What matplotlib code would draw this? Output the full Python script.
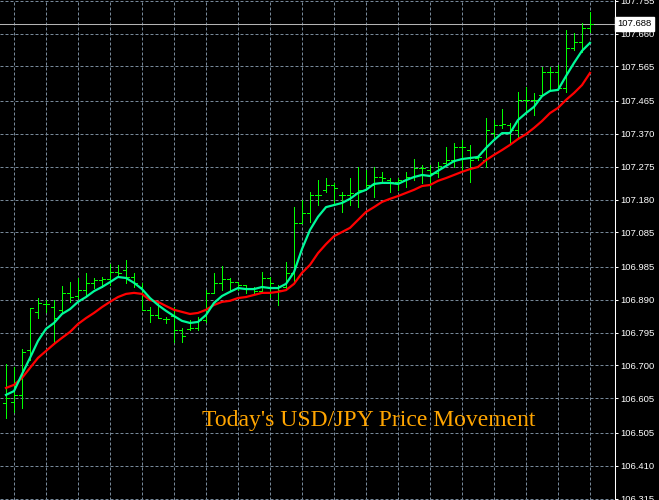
import matplotlib
matplotlib.use("Agg")
import matplotlib.pyplot as plt
import numpy as np

# USD/JPY bars
bar_open = [106.592, 106.594, 106.615, 106.745, 106.855, 106.878, 106.869, 106.861, 106.910, 106.901,
            106.918, 106.939, 106.947, 106.950, 106.970, 106.976, 106.956, 106.927, 106.861, 106.846,
            106.835, 106.843, 106.803, 106.806, 106.809, 106.832, 106.910, 106.939, 106.950, 106.941,
            106.933, 106.921, 106.915, 106.953, 106.927, 106.927, 106.968, 107.112, 107.141, 107.193,
            107.208, 107.222, 107.193, 107.193, 107.199, 107.208, 107.222, 107.245, 107.236, 107.231,
            107.236, 107.245, 107.271, 107.265, 107.257, 107.286, 107.294, 107.332, 107.323, 107.300,
            107.294, 107.372, 107.396, 107.396, 107.381, 107.468, 107.468, 107.482, 107.549, 107.549,
            107.503, 107.618, 107.636, 107.676]
bar_high = [106.704, 106.696, 106.748, 106.866, 106.895, 106.889, 106.889, 106.930, 106.941, 106.953,
            106.968, 106.953, 106.956, 106.994, 106.991, 107.005, 106.968, 106.939, 106.869, 106.881,
            106.840, 106.869, 106.809, 106.832, 106.840, 106.918, 106.968, 106.988, 106.953, 106.941,
            106.933, 106.927, 106.970, 106.956, 106.933, 106.999, 107.158, 107.179, 107.202, 107.236,
            107.242, 107.228, 107.202, 107.242, 107.274, 107.265, 107.274, 107.260, 107.242, 107.242,
            107.260, 107.297, 107.280, 107.280, 107.289, 107.332, 107.343, 107.352, 107.338, 107.309,
            107.416, 107.410, 107.442, 107.401, 107.491, 107.505, 107.488, 107.563, 107.563, 107.569,
            107.670, 107.662, 107.690, 107.722]
bar_low = [106.548, 106.566, 106.577, 106.716, 106.837, 106.855, 106.768, 106.852, 106.884, 106.895,
           106.904, 106.924, 106.927, 106.933, 106.956, 106.939, 106.927, 106.861, 106.826, 106.837,
           106.823, 106.768, 106.768, 106.803, 106.803, 106.826, 106.910, 106.918, 106.918, 106.918,
           106.910, 106.910, 106.913, 106.898, 106.875, 106.924, 106.939, 107.112, 107.115, 107.164,
           107.202, 107.164, 107.144, 107.164, 107.158, 107.208, 107.187, 107.228, 107.202, 107.208,
           107.216, 107.236, 107.228, 107.216, 107.245, 107.280, 107.274, 107.265, 107.231, 107.294,
           107.274, 107.361, 107.387, 107.343, 107.361, 107.430, 107.424, 107.482, 107.497, 107.497,
           107.491, 107.612, 107.607, 107.664]
bar_close = [106.606, 106.615, 106.739, 106.866, 106.881, 106.878, 106.837, 106.910, 106.898, 106.918,
             106.939, 106.947, 106.950, 106.970, 106.968, 106.956, 106.939, 106.861, 106.846, 106.837,
             106.835, 106.803, 106.785, 106.809, 106.832, 106.910, 106.939, 106.950, 106.941, 106.933,
             106.921, 106.915, 106.953, 106.939, 106.918, 106.968, 107.112, 107.141, 107.193, 107.193,
             107.222, 107.213, 107.193, 107.199, 107.208, 107.222, 107.245, 107.242, 107.231, 107.236,
             107.245, 107.271, 107.271, 107.257, 107.277, 107.294, 107.332, 107.332, 107.294, 107.303,
             107.381, 107.396, 107.398, 107.381, 107.468, 107.468, 107.468, 107.549, 107.549, 107.503,
             107.618, 107.636, 107.676, 107.688]

# moving averages
ma_fast = [106.615, 106.626, 106.675, 106.722, 106.771, 106.806, 106.823, 106.849, 106.863, 106.884,
           106.898, 106.915, 106.927, 106.941, 106.956, 106.953, 106.939, 106.921, 106.895, 106.875,
           106.858, 106.843, 106.829, 106.823, 106.826, 106.846, 106.881, 106.901, 106.913, 106.924,
           106.921, 106.921, 106.927, 106.924, 106.924, 106.936, 106.970, 107.037, 107.092, 107.130,
           107.158, 107.164, 107.170, 107.182, 107.199, 107.208, 107.225, 107.228, 107.228, 107.225,
           107.236, 107.245, 107.251, 107.248, 107.263, 107.277, 107.291, 107.297, 107.300, 107.303,
           107.329, 107.352, 107.372, 107.372, 107.410, 107.430, 107.448, 107.479, 107.494, 107.497,
           107.537, 107.575, 107.610, 107.633]
ma_slow = [106.635, 106.644, 106.664, 106.693, 106.722, 106.742, 106.762, 106.780, 106.797, 106.820,
           106.837, 106.852, 106.869, 106.884, 106.898, 106.907, 106.910, 106.907, 106.889, 106.884,
           106.872, 106.861, 106.855, 106.849, 106.852, 106.861, 106.875, 106.884, 106.887, 106.895,
           106.898, 106.904, 106.910, 106.910, 106.913, 106.918, 106.936, 106.968, 106.991, 107.025,
           107.051, 107.074, 107.086, 107.098, 107.121, 107.144, 107.158, 107.173, 107.182, 107.190,
           107.199, 107.208, 107.219, 107.222, 107.234, 107.242, 107.251, 107.260, 107.268, 107.274,
           107.294, 107.309, 107.323, 107.338, 107.355, 107.369, 107.387, 107.407, 107.430, 107.445,
           107.468, 107.488, 107.511, 107.546]

price_ticks = [107.755, 107.660, 107.565, 107.465, 107.370, 107.275, 107.180, 107.085,
               106.985, 106.890, 106.795, 106.700, 106.605, 106.505, 106.410, 106.315]
last_price = 107.688
title_text = "Today's USD/JPY Price Movement"

fig = plt.figure(figsize=(6.59, 5.0), dpi=100, facecolor="black")
ax = fig.add_axes([0, 0, 615 / 659, 1])
ax.set_facecolor("black")

idx = np.arange(len(bar_close))
bar_col = "#00ff00"
ax.vlines(idx, bar_low, bar_high, color=bar_col, lw=0.6, antialiased=False, zorder=3)
ax.hlines(bar_open, idx - 0.4, idx, color=bar_col, lw=0.6, antialiased=False, zorder=3)
ax.hlines(bar_close, idx, idx + 0.4, color=bar_col, lw=0.6, antialiased=False, zorder=3)

ax.plot(idx, ma_slow, color="#ff0000", lw=1.6, zorder=4)
ax.plot(idx, ma_fast, color="#00fa9a", lw=1.6, zorder=5)

ax.axhline(last_price, color="#b4b4b4", lw=0.75, zorder=2)

ax.set_xlim(-0.75, 76.125)
ax.set_ylim(106.311, 107.757)

ax.set_xticks(np.arange(1, 77, 4))
ax.set_yticks(price_ticks)
ax.set_yticklabels(["%.3f" % p for p in price_ticks])
ax.yaxis.tick_right()
ax.tick_params(axis="x", bottom=False, labelbottom=False)
ax.tick_params(axis="y", colors="white", length=2.2, width=0.75, pad=1.5,
               labelsize=6.8, labelfontfamily="Liberation Sans")
ax.set_axisbelow(True)
ax.grid(True, color="#778899", lw=0.72, linestyle=(0, (3, 2)))

for s in ["top", "left", "bottom"]:
    ax.spines[s].set_visible(False)
ax.spines["right"].set_color("white")
ax.spines["right"].set_linewidth(0.75)

# current price box
ax.text(1.004, last_price, "%.3f" % last_price, transform=ax.get_yaxis_transform(),
        va="center", ha="left", fontsize=6.8, family="Liberation Sans", color="black",
        bbox=dict(boxstyle="square,pad=0.25", fc="white", ec="white"), clip_on=False, zorder=10)

fig.text(202 / 659, 1 - 426 / 500, title_text, color="#ffa500", fontsize=17,
         family="Liberation Serif", va="baseline", ha="left")

fig.savefig("out.png", dpi=100, facecolor="black")
